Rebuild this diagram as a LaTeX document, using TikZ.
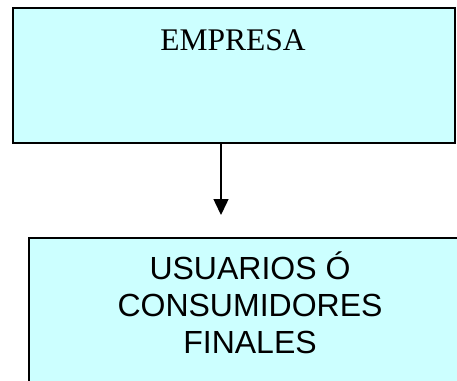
\documentclass[tikz,border=0pt]{standalone}
\usepackage{fontspec}
\setmainfont{Liberation Serif}
\newfontfamily\arialfont{Liberation Sans}
\usetikzlibrary{arrows.meta}
\definecolor{boxfill}{HTML}{CCFFFF}
\tikzset{
  box/.style={draw=black, line width=2pt, fill=boxfill, rectangle, inner sep=0pt},
  lbl/.style={inner sep=0pt, anchor=base},
  conn/.style={line width=1.5pt, -{Triangle[width=15pt,length=16pt]}}
}
\begin{document}
\begin{tikzpicture}[x=1pt,y=1pt]
\useasboundingbox (0,0) rectangle (457,-380);
\clip (0,0) rectangle (457,-380);
\node[box, minimum width=442pt, minimum height=135pt] (empresa) at (233.5,-75.5) {};
\node[lbl, font=\fontsize{31.5}{36}\selectfont] (empresaTxt) at (233,-50) {EMPRESA};
\node[box, minimum width=442pt, minimum height=170pt] (usuarios) at (250,-323) {};
\node[lbl, font=\arialfont\fontsize{32}{36.7}\selectfont, align=center, anchor=base] (usuariosTxt) at (250,-353) {USUARIOS Ó\\CONSUMIDORES\\FINALES};
\coordinate (arrtip) at (221,-215);
\draw[conn] (empresa.south -| arrtip) -- (arrtip);
\end{tikzpicture}
\end{document}
